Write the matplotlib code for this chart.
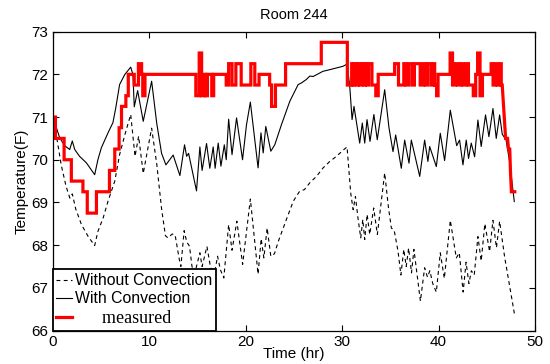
import matplotlib
matplotlib.use("Agg")
import matplotlib.pyplot as plt
import numpy as np

# ---------------- data ----------------
t_without = [0.0, 0.5, 0.9, 1.4, 1.8, 2.05, 2.4, 3.0, 3.7, 4.37, 4.7, 5.25, 5.75, 6.45, 6.95,
             7.5, 8.1, 8.55, 8.92, 9.4, 10.27, 10.8, 11.3, 11.7, 11.95, 12.4, 12.7, 13.15, 13.3,
             13.64, 13.9, 14.2, 14.45, 14.75, 15.27, 15.5, 16.0, 16.36, 16.73, 17.1, 17.4, 17.75,
             18.25, 18.6, 19.1, 19.7, 20.5, 21.3, 21.62, 21.9, 22.24, 22.62, 23.0, 23.4, 24.3,
             24.95, 25.6, 26.1, 26.66, 27.35, 28.04, 28.73, 29.42, 30.2, 30.52, 30.9, 31.15,
             31.39, 31.67, 31.94, 32.15, 32.35, 32.6, 32.87, 33.28, 33.66, 34.42, 34.8, 35.11,
             35.4, 35.8, 36.1, 36.4, 36.65, 36.9, 37.2, 37.45, 38.12, 38.56, 38.85, 39.1, 39.4,
             39.77, 40.18, 40.6, 41.22, 41.84, 42.15, 42.55, 42.85, 43.15, 43.4, 43.7, 44.08,
             44.42, 44.8, 45.29, 45.64, 46.0, 46.33, 46.85, 47.88]
T_without = [71.0, 70.43, 69.88, 69.38, 69.1, 69.2, 68.85, 68.48, 68.2, 67.99, 68.32, 68.64, 69.03,
             69.5, 70.12, 70.59, 71.06, 70.08, 70.55, 69.68, 70.74, 69.9, 68.85, 68.22, 68.17,
             68.26, 68.24, 67.65, 67.5, 68.34, 68.08, 67.97, 67.5, 67.35, 67.82, 67.5, 67.97,
             67.5, 67.27, 67.74, 67.42, 67.23, 68.48, 67.88, 68.56, 67.55, 69.08, 67.32, 68.15,
             67.7, 68.4, 67.74, 67.8, 68.09, 68.64, 69.03, 69.26, 69.3, 69.46, 69.61, 69.81,
             69.96, 70.08, 70.24, 70.3, 69.22, 68.83, 69.14, 68.6, 68.17, 68.6, 68.13, 68.72,
             68.25, 68.87, 68.25, 69.69, 68.9, 68.4, 68.35, 67.86, 67.3, 67.9, 67.5, 67.93,
             67.35, 67.9, 66.69, 67.47, 67.25, 67.4, 67.1, 66.9, 67.82, 67.22, 68.58, 67.7,
             67.82, 66.9, 67.6, 67.1, 67.4, 67.3, 68.2, 67.63, 68.5, 67.85, 68.58, 67.94,
             68.56, 67.72, 66.37]

t_with = [0.0, 0.4, 0.75, 1.26, 1.78, 2.05, 2.3, 2.8, 3.5, 4.37, 4.7, 5.06, 5.75, 6.26, 6.55,
          6.95, 7.47, 8.1, 8.33, 8.47, 8.82, 9.4, 10.27, 10.8, 11.3, 11.75, 12.5, 13.2, 13.68,
          13.9, 14.1, 14.92, 15.27, 15.5, 15.96, 16.3, 16.65, 16.85, 17.17, 17.45, 17.8, 18.0,
          18.25, 18.6, 19.07, 19.69, 20.1, 20.5, 21.3, 21.6, 21.83, 22.1, 22.62, 23.03, 23.72,
          24.59, 25.45, 25.8, 26.3, 26.66, 27.0, 27.35, 28.0, 28.73, 29.42, 30.11, 30.52, 30.8,
          31.04, 31.24, 31.83, 32.1, 32.35, 32.59, 32.9, 33.3, 33.65, 34.42, 34.87, 35.28,
          35.56, 36.14, 36.49, 36.94, 37.18, 38.05, 38.56, 38.9, 39.08, 39.77, 40.18, 40.63,
          41.22, 41.88, 42.18, 42.53, 42.87, 43.11, 43.39, 43.74, 44.08, 44.42, 44.87, 45.22,
          45.64, 45.98, 46.33, 46.6, 47.0, 47.36, 47.85]
T_with = [71.0, 70.75, 70.51, 70.33, 70.24, 70.44, 70.24, 70.08, 69.93, 69.65, 70.0, 70.28,
          70.63, 70.87, 71.21, 71.76, 71.99, 72.17, 72.0, 71.24, 71.62, 70.9, 71.84, 70.85,
          70.15, 69.88, 70.11, 69.63, 70.35, 70.08, 70.15, 69.27, 70.3, 69.75, 70.38, 69.8,
          70.3, 69.8, 70.39, 69.85, 70.35, 70.0, 70.95, 70.12, 70.98, 70.0, 70.82, 71.35,
          69.81, 70.63, 70.16, 70.78, 70.2, 70.35, 70.82, 71.37, 71.76, 71.8, 71.88, 71.96,
          71.95, 71.99, 72.07, 72.11, 72.15, 72.19, 72.24, 71.72, 70.94, 71.25, 70.39, 70.86,
          70.39, 70.94, 70.43, 71.06, 70.47, 71.64, 70.74, 70.19, 70.58, 69.8, 70.46, 69.92,
          70.46, 69.61, 70.46, 69.96, 70.31, 69.84, 70.62, 69.98, 71.16, 70.33, 70.46, 69.88,
          70.46, 70.03, 70.39, 70.07, 70.93, 70.31, 71.05, 70.54, 71.2, 70.5, 71.05, 70.6,
          70.46, 69.96, 69.02]

# measured: piecewise-constant steps (start time, value) then a sloped tail
m_t = [0, 0.3, 1.2, 1.95, 3.15, 3.6, 4.55, 5.9, 6.45, 6.9, 7.15, 7.6, 7.85, 8.47, 8.9, 9.23,
       9.35, 9.58, 14.85, 15.2, 15.45, 15.7, 15.85, 16.05, 16.5, 16.7, 18.0, 18.25, 18.6, 19.0,
       19.55, 20.55, 20.96, 21.4, 22.5, 22.7, 23.1, 24.15, 27.85, 30.55, 31.0, 31.15, 31.25,
       31.5, 31.65, 31.85, 32.05, 32.3, 32.4, 32.6, 32.75, 33.1, 33.5, 33.75, 35.45, 35.85,
       36.4, 36.65, 36.9, 37.25, 37.5, 38.1, 38.4, 38.65, 38.9, 39.25, 39.45, 39.6, 39.8,
       39.95, 41.2, 41.45, 41.75, 42.0, 42.3, 42.55, 42.85, 43.1, 43.6, 43.85, 44.05, 44.3,
       44.55, 45.45, 45.65, 45.9, 46.1, 46.35, 46.5]
m_v = [71.0, 70.5, 70.0, 69.5, 69.25, 68.75, 69.25, 69.75, 70.25, 70.75, 71.25, 71.5, 72.0,
       71.75, 72.25, 72.0, 71.5, 72.0, 71.5, 72.5, 71.5, 72.0, 71.5, 72.0, 71.5, 72.0, 71.75,
       72.25, 71.75, 72.25, 71.75, 72.25, 71.75, 72.0, 71.75, 71.25, 71.75, 72.25, 72.75,
       71.75, 72.25, 71.75, 72.25, 71.75, 72.25, 71.75, 72.25, 71.75, 72.25, 71.75, 72.25,
       71.75, 71.5, 72.0, 72.25, 71.75, 72.25, 71.75, 72.25, 71.75, 72.25, 71.75, 72.25,
       71.75, 72.25, 71.75, 72.25, 71.75, 71.5, 72.0, 72.5, 71.75, 72.25, 71.75, 72.25,
       71.75, 72.25, 71.75, 71.5, 72.0, 72.5, 71.5, 72.0, 72.25, 71.75, 72.25, 71.75,
       72.25, 71.75]
tail_t = [46.6, 46.95, 47.15, 47.25, 47.38, 47.45, 47.55, 47.9]
tail_v = [71.75, 70.5, 70.5, 70.25, 70.25, 69.75, 69.25, 69.25]

x_ticks = [0, 10, 20, 30, 40, 50]
y_ticks = [66, 67, 68, 69, 70, 71, 72, 73]

# ---------------- figure ----------------
FONT = ["Liberation Sans", "DejaVu Sans"]
plt.rcParams["font.family"] = FONT

fig = plt.figure(figsize=(5.5, 3.64), dpi=100)
ax = fig.add_axes([0.0955, 0.092, 0.8773, 0.821])

ax.plot(t_without, T_without, color="black", lw=0.8, linestyle=(0, (3.5, 3)),
        label="Without Convection")
ax.plot(t_with, T_with, color="black", lw=0.8, label="With Convection")

mx, my = [], []
for i in range(len(m_t)):
    end = m_t[i + 1] if i + 1 < len(m_t) else tail_t[0]
    mx += [m_t[i], end]
    my += [m_v[i], m_v[i]]
mx += tail_t
my += tail_v
ax.plot(mx, my, color="#ff0000", lw=2.3, solid_joinstyle="miter", label="      measured")

ax.set_xlim(0, 50)
ax.set_ylim(66, 73)
ax.set_xticks(x_ticks)
ax.set_yticks(y_ticks)
ax.tick_params(direction="in", length=4, width=0.8, top=True, right=True,
               labelsize=11, pad=3)
for s in ax.spines.values():
    s.set_linewidth(0.9)

ax.set_title("Room 244", fontsize=10.5, pad=9)
ax.set_xlabel("Time (hr)", fontsize=11, labelpad=-1)
ax.set_ylabel("Temperature(F)", fontsize=11, labelpad=2)

leg = ax.legend(loc="lower left", bbox_to_anchor=(0, 0), borderaxespad=0,
                fontsize=11.4, handlelength=1.0, handletextpad=0.15,
                labelspacing=0.2, borderpad=0.25, fancybox=False, framealpha=1,
                edgecolor="black")
leg.get_frame().set_linewidth(1.3)
txts = leg.get_texts()
txts[2].set_fontfamily(["Liberation Serif", "DejaVu Serif"])
txts[2].set_fontsize(13)

fig.savefig("out.png", dpi=100)
